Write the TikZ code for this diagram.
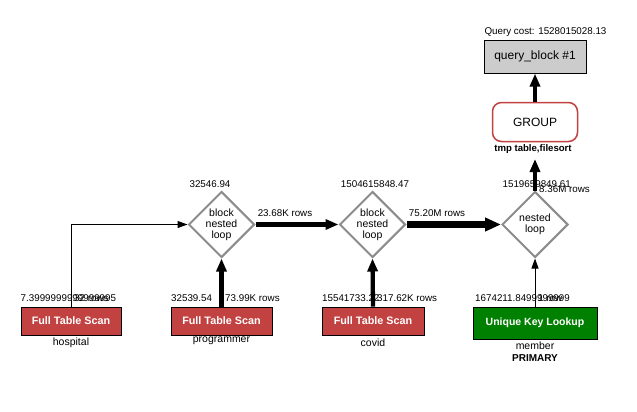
\documentclass[tikz,border=0pt]{standalone}
\usepackage{fontspec}
\setmainfont{Liberation Sans}
\usetikzlibrary{shapes.geometric,arrows.meta}
\definecolor{scanred}{HTML}{C24141}
\definecolor{lookgreen}{HTML}{008000}
\definecolor{diagray}{HTML}{8C8C8C}
\definecolor{qbgray}{HTML}{CCCCCC}
\begin{document}
\begin{tikzpicture}[x=1pt,y=-1pt,
  lbl/.style={font=\fontsize{9.8}{11}\selectfont, inner sep=0pt},
  sub/.style={font=\fontsize{10.5}{12}\selectfont, inner sep=0pt},
  subb/.style={font=\fontsize{10}{12}\selectfont\bfseries, inner sep=0pt},
  dia/.style={shape=diamond, draw=diagray, line width=2pt, fill=white, minimum width=66pt, minimum height=66pt, inner sep=0pt},
  diatext/.style={font=\fontsize{10.5}{11}\selectfont, align=center, inner sep=0pt},
  scanbox/.style={draw=black, line width=0.8pt, fill=scanred, text=white, font=\fontsize{10.8}{12}\selectfont\bfseries, inner sep=0pt, minimum height=28pt},
  lookbox/.style={draw=black, line width=0.8pt, fill=lookgreen, text=white, font=\fontsize{10.5}{12}\selectfont\bfseries, inner sep=0pt, minimum width=124pt, minimum height=32pt},
  thinedge/.style={line width=1pt, -{Triangle[length=10pt,width=7pt]}},
  mededge/.style={line width=4.3pt, -{Triangle[length=13pt,width=10pt]}},
  bigedge/.style={line width=6.5pt, -{Triangle[length=16pt,width=13pt]}}
]
\useasboundingbox[fill=white] (0,0) rectangle (637,412);

% top
\node[lbl] (qcost) at (545.5,32) {Query cost: 1528015028.13};
\node[draw=black, line width=0.8pt, fill=qbgray, minimum width=102pt, minimum height=33pt, inner sep=0pt, font=\fontsize{12}{14}\selectfont] (qb) at (535,56.7) {query\_block \#1};
\node[draw=scanred, line width=1.5pt, fill=white, rounded corners=9pt, minimum width=85pt, minimum height=39pt, inner sep=0pt, font=\fontsize{12}{14}\selectfont] (grp) at (535,122) {GROUP};
\node[font=\fontsize{9.6}{11}\selectfont\bfseries, inner sep=0pt] (tmp) at (533,149.5) {tmp table,filesort};
\coordinate (gin) at (535,159);

% diamonds
\node[dia] (bnl1) at (221.5,224.5) {};
\node[diatext] (bnl1t) at (bnl1) {block\\nested\\loop};
\node[dia] (bnl2) at (372.5,224.5) {};
\node[diatext] (bnl2t) at (bnl2) {block\\nested\\loop};
\node[dia] (nl) at (535,224.5) {};
\node[diatext] (nlt) at (nl) {nested\\loop};

% boxes
\node[scanbox, minimum width=100pt] (hosp) at (71,321) {Full Table Scan};
\node[scanbox, minimum width=101pt] (prog) at (221.5,321) {Full Table Scan};
\node[scanbox, minimum width=102pt] (covid) at (373,321) {Full Table Scan};
\node[lookbox] (mem) at (535,323) {Unique Key Lookup};

% edges
\draw[thinedge] (hosp.north) |- (bnl1.west);
\draw[mededge] (prog.north) -- (bnl1.south);
\draw[mededge] (bnl1.east) -- (bnl2.west);
\draw[mededge] (covid.north) -- (bnl2.south);
\draw[bigedge] (bnl2.east) -- (nl.west);
\draw[thinedge] (mem.north) -- (nl.south);
\draw[mededge] (nl.north) -- (gin);
\draw[mededge] (grp.north) -- (qb.south);

% cost / rows labels
\node[lbl] (c1) at (210,184) {32546.94};
\node[lbl] (c2) at (375,184) {1504615848.47};
\node[lbl] (c3) at (536.7,184) {1519659849.61};
\node[lbl, anchor=west] (r3) at (539,189) {8.36M rows};
\node[lbl] (r12) at (285,213) {23.68K rows};
\node[lbl] (r23) at (437,213) {75.20M rows};

\node[lbl, anchor=west] (ch) at (20.5,298.5) {7.3999999999999995};
\node[lbl, anchor=west] (rh) at (74,298.5) {32 rows};
\node[lbl, anchor=west] (cp) at (171,298.5) {32539.54};
\node[lbl, anchor=west] (rp) at (225,298.5) {73.99K rows};
\node[lbl, anchor=west] (cc) at (322,298.5) {15541733.22};
\node[lbl, anchor=west] (rc) at (377,298.5) {317.62K rows};
\node[lbl, anchor=west] (cm) at (475,298.5) {1674211.8499999999};
\node[lbl, anchor=west] (rm) at (538,298.5) {1 row};

% table names
\node[sub] (th) at (71,343) {hospital};
\node[sub] (tp) at (221.5,341) {programmer};
\node[sub] (tc) at (373,343) {covid};
\node[sub] (tm) at (535,346) {member};
\node[subb] (tk) at (535,358) {PRIMARY};
\end{tikzpicture}
\end{document}
